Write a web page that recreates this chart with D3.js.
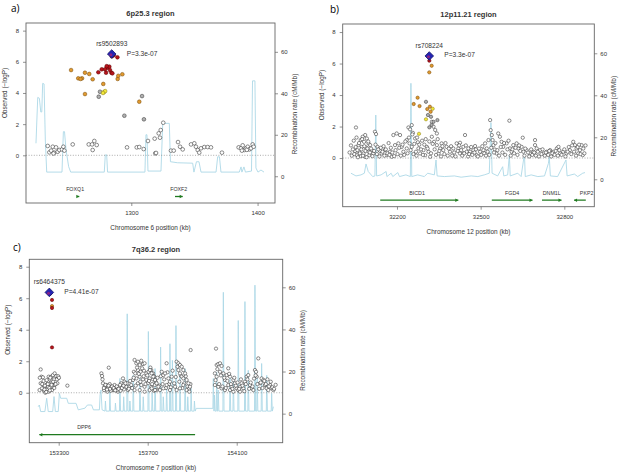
<!DOCTYPE html>
<html><head><meta charset="utf-8">
<script src="https://cdn.jsdelivr.net/npm/d3@7"></script>
<style>
body{margin:0;background:#fff;}
svg{display:block;font-family:"Liberation Sans",Arial,sans-serif;}
</style></head><body>
<svg id="chart" width="622" height="473"></svg>
<script>
// ================= DATA =================
const yTicks = [0, 2, 4, 6, 8];
const rTicks = [0, 20, 40, 60];

// ---- panel a : 6p25.3 ----
const aLetter = "a)";
const aTitle = "6p25.3 region";
const aXTitle = "Chromosome 6 position (kb)";
const aXTicks = [1300, 1400];
const aIndex = {name: "rs9502893", p: "P=3.3e-07", pos: 1284.5, logp: 6.5};
const aRed = [[1273.9,5.33],[1276.6,5.52],[1281,5.62],[1283.1,5.47],[1284.2,5.3],[1280,5.3],[1282.6,5.69],[1289,6.29],[1285,5.26],[1279.2,5.52],[1280.5,5.72],[1284.6,6.35],[1286,6.42]];
const aOrange = [[1252.3,5.47],[1258,4.94],[1261,4.94],[1259.8,4.9],[1263.3,5.3],[1266.7,5.22],[1269.4,4.88],[1263.3,3.93],[1277.8,4.58],[1289.2,4.9],[1292.9,5.2],[1289.7,5.1],[1306.3,3.44]];
const aYellow = [[1278.4,4.06],[1279.3,4.12],[1277.6,4.0]];
const aGray = [[1275.2,4.08],[1274.2,3.76],[1294.5,2.54],[1310,2.31],[1308.5,3.8]];
const aWhite = [[1233.8,0.6],[1237.8,0.55],[1240.4,0.51],[1235.1,0.19],[1239.0,0.17],[1241.7,0.23],[1243.0,0.34],[1245.1,0.38],[1246.2,0.55],[1247.0,0.3],[1236.5,0.3],[1238.4,0.12],[1253.6,0.7],[1266.3,0.7],[1268.9,0.7],[1270.7,0.92],[1272.6,0.66],[1269.4,0.34],[1296.6,0.51],[1304.3,0.51],[1306.3,0.53],[1309.8,0.4],[1313.2,0.92],[1319.0,0.13],[1319.6,0.15],[1318.5,1.07],[1321.7,1.41],[1323.3,1.62],[1322.7,1.13],[1325.3,2.09],[1331.4,0.3],[1333.6,0.3],[1337.0,0.85],[1338.6,0.55],[1340.7,0.38],[1347.3,0.7],[1349.9,0.77],[1351.2,0.55],[1352.6,0.34],[1353.8,0.17],[1355.2,0.45],[1357.8,0.53],[1360.5,0.53],[1363.1,0.51],[1371.8,0.17],[1385.0,0.51],[1386.9,0.45],[1388.2,0.64],[1389.5,0.34],[1390.8,0.45],[1392.2,0.55],[1393.5,0.38],[1394.8,0.45],[1396.1,0.7],[1396.9,0.55],[1387.6,0.3],[1391.5,0.35]];
const aRecomb = [[1224.5,15.9],[1225.9,38],[1227.2,37.6],[1228.3,31],[1229.1,31],[1229.8,44.8],[1230.9,44.5],[1231.9,17.5],[1233.0,2],[1245.1,2],[1246.2,21.5],[1247.1,21.5],[1248.3,12.7],[1250.4,4.6],[1252.0,2],[1278.6,2],[1279.4,10.3],[1280.5,10.3],[1281.2,2],[1310.8,2],[1311.6,20],[1312.4,20],[1313.2,2.5],[1323.5,2.5],[1324.9,25.5],[1330.1,25.5],[1331.0,7],[1336.7,6.5],[1348.6,6.3],[1349.6,2],[1351.6,7],[1353.6,7],[1355.2,2],[1367.1,2],[1368.4,9.4],[1369.8,9.4],[1371.0,2],[1385.5,2],[1386.9,4.5],[1387.6,2],[1389.2,4.5],[1390.4,2],[1395.2,2.5],[1396.0,46],[1397.9,46],[1398.7,4],[1400.3,2],[1402.7,3],[1405.1,2]];
const aGenes = [{name:"FOXQ1", start:1257.3, end:1258.8, strand:1, label:1255.5},{name:"FOXF2", start:1334.6, end:1340.7, strand:1, label:1337.6}];

// ---- panel b : 12p11.21 ----
const bLetter = "b)";
const bTitle = "12p11.21 region";
const bXTitle = "Chromosome 12 position (kb)";
const bXTicks = [32200, 32500, 32800];
const bIndex = {name: "rs708224", p: "P=3.3e-07", pos: 32315.8, logp: 6.48};
const bRed = [[32316,6.18]];
const bOrange = [[32324.4,5.86],[32315.8,5.44],[32274,3.83],[32260,3.43],[32281,3.3],[32308.6,3.11],[32318,3.26],[32320.7,2.94]];
const bYellow = [[32328,3.13],[32304,2.46],[32279,1.54]];
const bGray = [[32304,3.57],[32311,2.73],[32322,2.62],[32331,2.3],[32345,2.41],[32324,2.1],[32316,1.95]];
const bWhite = [[32053,1.94],[32086,1.46],[32077,1.35],[32092,1.24],[32070,1.14],[32082,1.03],[32098,0.93],[32062,0.82],[32074,0.71],[32089,0.67],[32104,0.82],[32050,0.44],[32065,0.4],[32080,0.29],[32098,0.4],[32110,0.5],[32056,0.18],[32070,0.12],[32086,0.08],[32101,0.18],[32115,0.29],[32121,1.67],[32125,1.52],[32130,0.71],[32139,0.46],[32145,0.29],[32157,0.5],[32163,0.18],[32175,0.4],[32181,0.08],[32187,1.46],[32199,1.56],[32211,1.46],[32193,0.82],[32205,0.93],[32217,0.71],[32223,0.4],[32235,0.61],[32241,1.94],[32247,1.82],[32253,2.09],[32257,1.6],[32235,1.14],[32245,0.93],[32253,0.71],[32265,1.24],[32268,0.4],[32277,0.61],[32283,0.29],[32295,0.5],[32301,0.18],[32307,0.71],[32313,0.4],[32319,0.08],[32325,2.3],[32331,1.99],[32337,1.78],[32343,1.56],[32325,1.35],[32333,1.03],[32343,0.82],[32355,0.61],[32349,0.29],[32360,0.93],[32366,0.5],[32378,0.71],[32390,0.4],[32402,0.61],[32414,0.93],[32420,0.61],[32426,0.29],[32438,0.71],[32444,1.46],[32450,0.4],[32456,0.61],[32426,0.97],[32438,0.29],[32462,0.4],[32474,0.5],[32480,0.76],[32486,0.18],[32498,0.4],[32510,0.5],[32522,0.61],[32516,0.93],[32528,1.14],[32534,2.41],[32536,1.77],[32540,1.46],[32543,1.14],[32546,0.82],[32551,0.54],[32557,0.29],[32563,1.56],[32569,1.35],[32575,1.03],[32581,0.71],[32593,0.93],[32603,2.37],[32605,0.61],[32611,0.4],[32617,0.82],[32629,0.93],[32635,0.61],[32647,0.71],[32651,1.29],[32653,0.4],[32665,0.5],[32677,0.29],[32689,0.4],[32695,1.14],[32695,0.82],[32701,0.61],[32713,0.5],[32725,0.29],[32737,0.4],[32749,0.5],[32761,0.4],[32773,0.61],[32779,0.71],[32785,0.29],[32796,0.4],[32808,0.29],[32820,0.5],[32832,1.03],[32838,0.82],[32844,0.61],[32850,0.29],[32856,0.5],[32862,0.82],[32866,0.18],
[32030,0.35],[32035,0.8],[32038,0.15],[32042,0.55],[32045,1.1],[32047,0.25],[32052,0.7],[32055,1.3],[32058,0.5],[32060,0.05],[32064,0.95],[32067,0.3],[32072,0.55],[32075,1.2],[32078,0.15],[32083,0.75],[32087,0.45],[32091,0.05],[32094,0.6],[32097,1.05],[32103,0.35],[32107,0.6],[32112,0.12],[32118,0.45],[32123,0.85],[32128,0.25],[32133,0.55],[32137,0.1],[32142,0.65],[32148,0.4],[32152,0.75],[32155,0.15],[32160,0.55],[32166,0.3],[32170,0.95],[32173,0.2],[32178,0.65],[32183,0.35],[32190,0.12],[32195,0.5],[32202,0.25],[32208,0.65],[32214,0.15],[32220,0.85],[32226,0.2],[32230,1.05],[32238,0.3],[32243,1.3],[32249,0.5],[32255,1.5],[32259,0.25],[32262,0.9],[32270,0.15],[32272,1.3],[32275,1.0],[32280,0.85],[32286,0.55],[32290,1.1],[32293,0.2],[32298,0.85],[32303,1.2],[32310,0.6],[32316,1.05],[32322,0.3],[32328,0.9],[32335,0.55],[32340,0.2],[32346,1.2],[32352,0.45],[32358,0.1],[32363,0.75],[32370,0.25],[32374,0.95],[32382,0.15],[32386,0.6],[32394,0.75],[32398,0.15],[32405,0.35],[32410,0.1],[32418,0.45],[32423,0.8],[32430,0.5],[32434,0.15],[32441,0.3],[32447,0.8],[32455,0.1],[32459,0.25],[32466,0.7],[32470,0.2],[32478,0.35],[32483,0.55],[32490,0.1],[32494,0.6],[32502,0.2],[32506,0.75],[32513,0.3],[32519,0.15],[32525,0.4],[32531,0.2],[32538,0.65],[32548,0.35],[32553,0.95],[32560,0.5],[32566,0.15],[32572,0.7],[32578,0.35],[32584,0.95],[32588,0.2],[32596,0.55],[32600,1.1],[32608,0.15],[32614,0.55],[32620,0.3],[32625,0.65],[32632,0.2],[32638,0.8],[32642,0.45],[32657,0.15],[32660,0.6],[32670,0.35],[32674,0.1],[32681,0.55],[32685,0.2],[32692,0.35],[32698,0.15],[32705,0.4],[32709,0.1],[32718,0.25],[32722,0.55],[32730,0.15],[32734,0.35],[32742,0.2],[32746,0.45],[32753,0.1],[32757,0.3],[32765,0.2],[32769,0.45],[32777,0.15],[32782,0.5],[32790,0.2],[32800,0.55],[32804,0.1],[32812,0.4],[32816,0.7],[32825,0.25],[32828,0.8],[32835,0.4],[32842,0.15],[32848,0.7],[32853,0.85],[32858,0.25],[32868,0.6],[32872,0.3],[32876,0.8]];
const bRecomb = [[32035,2.9],[32053,1.6],[32071,2.1],[32083,2.9],[32089,7.3],[32097,3.7],[32113,1.3],[32121,1.6],[32124,30.6],[32127,1.6],[32143,2.1],[32161,3.7],[32164,1.3],[32179,2.9],[32185,1.3],[32203,3.2],[32209,1.3],[32232,2.1],[32248,1.3],[32250,45.7],[32253,1.3],[32274,2.1],[32298,1.3],[32310,2.9],[32334,2.1],[32340,9.2],[32344,1.6],[32370,1.3],[32406,1.6],[32430,1.0],[32466,1.6],[32490,1.3],[32513,2.1],[32531,2.9],[32537,27],[32541,2.9],[32561,1.6],[32579,6],[32583,1.6],[32597,2.1],[32603,11.6],[32606,1.6],[32633,2.9],[32645,1.3],[32657,12.1],[32660,1.3],[32681,2.1],[32705,1.3],[32729,1.6],[32743,7.6],[32746,10.8],[32750,1.6],[32776,1.3],[32806,9.2],[32810,1.6],[32836,2.5],[32848,1.3],[32866,2.9],[32874,3.2]];
const bGenes = [{name:"BICD1", start:32140, end:32420, strand:1, label:32272},{name:"FGD4", start:32540, end:32686, strand:1, label:32613},{name:"DNM1L", start:32720, end:32790, strand:1, label:32755},{name:"PKP2", start:32877, end:32835, strand:-1, label:32880}];

// ---- panel c : 7q36.2 ----
const cLetter = "c)";
const cTitle = "7q36.2 region";
const cXTitle = "Chromosome 7 position (kb)";
const cXTicks = [153300, 153700, 154100];
const cIndex = {name: "rs6464375", p: "P=4.41e-07", pos: 153258, logp: 6.37};
const cRed = [[153270,5.89],[153270,5.38],[153270,2.88],[153262,6.3]];
const cOrange = [[153270,5.5]];
const cYellow = [];
const cGray = [];
const cWhite = [[153219,1.48],[153222,1.02],[153219,0.6],[153229,0.98],[153214,0.17],[153234,0.38],[153244,0.49],[153252,0.7],[153259,0.85],[153255,1.02],[153267,1.02],[153274,1.12],[153282,1.23],[153289,1.06],[153297,0.91],[153279,0.85],[153270,0.64],[153264,0.38],[153249,0.21],[153234,0.13],[153225,0.28],[153240,0],[153255,0.07],[153270,0.17],[153282,0.49],[153294,0.6],[153252,0.38],[153339,0.45],
[153215,0.95],[153226,0.55],[153232,0.75],[153238,0.45],[153246,0.8],[153251,0.55],[153258,0.3],[153262,0.95],[153268,0.5],[153275,0.7],[153280,0.3],[153286,0.55],[153292,0.85],[153298,1.05],[153301,0.95],[153236,0.2],[153244,0.05],[153260,0.15],
[153492,1.23],[153495,1.06],[153525,1.59],[153499,0.6],[153507,0.38],[153514,0.49],[153522,0.28],[153529,0.55],[153537,0.38],[153544,0.17],[153551,0.49],[153559,0.28],[153566,0.07],[153574,0.38],[153581,0.6],[153589,0.91],[153596,0.7],[153604,0.38],[153611,0.17],[153504,0.17],[153519,0.07],[153534,0.13],[153549,0.21],[153563,0.17],[153578,0.13],[153593,0.21],[153608,0.6],[153619,0.38],[153626,0.49],[153634,0.81],[153641,2.08],[153649,1.87],[153656,1.97],[153664,1.76],[153671,2.03],[153679,1.82],[153686,1.87],[153638,1.33],[153644,1.23],[153656,1.44],[153668,1.33],[153683,1.4],[153694,1.23],[153704,1.33],[153716,1.44],[153724,1.23],[153649,0.91],[153664,1.02],[153679,0.85],[153694,0.81],[153709,0.91],[153724,0.85],[153656,0.6],[153671,0.49],[153686,0.38],[153701,0.6],[153716,0.38],[153731,0.49],[153641,0.17],[153664,0.17],[153686,0.07],[153709,0.17],[153728,0.13],[153739,0.17],
[153497,0.85],[153503,0.3],[153510,0.5],[153517,0.2],[153524,0.45],[153531,0.25],[153540,0.4],[153547,0.3],[153554,0.15],[153561,0.4],[153569,0.25],[153576,0.5],[153584,0.3],[153591,0.45],[153600,0.6],[153615,0.25],[153621,0.75],[153630,0.3],[153637,0.95],[153646,0.45],[153652,1.6],[153660,1.2],[153667,0.7],[153675,1.55],[153682,1.05],[153690,0.55],[153698,1.1],[153706,0.75],[153712,1.6],[153720,0.55],[153729,1.05],[153736,0.7],[153744,0.95],[153752,0.45],[153759,1.05],[153767,0.55],[153774,0.85],[153782,0.3],[153789,1.3],[153796,0.55],[153804,0.35],[153812,1.4],[153819,0.6],[153826,1.0],[153834,1.65],[153842,0.7],[153849,1.1],[153856,0.3],[153864,0.6],[153871,1.05],[153879,0.4],[153886,0.25],[153892,0.55],
[153710,1.44],[153718,1.23],[153725,1.02],[153733,0.81],[153740,0.6],[153748,0.38],[153718,0.28],[153733,0.17],[153763,1.33],[153770,1.12],[153778,1.23],[153785,1.87],[153793,0.91],[153800,0.7],[153808,1.02],[153785,0.49],[153770,0.28],[153755,0.17],[153800,0.17],[153823,0.38],[153830,1.97],[153838,1.87],[153845,1.76],[153853,1.65],[153860,1.44],[153838,1.44],[153845,1.23],[153853,1.02],[153860,0.91],[153868,1.23],[153875,0.81],[153883,0.6],[153890,0.38],[153860,0.49],[153845,0.28],[153830,0.17],[153875,0.17],[153887,0.07],[153893,2.71],
[154007,2.8],[154002,1.23],[154010,1.76],[154017,1.82],[154025,1.87],[154032,1.7],[154010,1.02],[154025,1.33],[154040,1.23],[154055,1.12],[154047,0.81],[154062,1.55],[154070,1.02],[154002,0.49],[154017,0.38],[154032,0.28],[154047,0.17],[154062,0.49],[154077,0.38],[154085,0.81],[154092,0.6],[154100,0.28],[154107,0.17],[154115,0.38],[154122,0.6],[154130,0.28],[154137,0.7],[154145,1.02],[154152,1.12],[154160,0.49],[154167,0.28],[154175,0.17],[154182,1.44],[154187,1.33],[154190,1.02],[154197,2.18],[154205,0.6],[154212,0.91],[154220,0.81],[154227,0.49],[154235,0.28],[154242,0.17],[154250,0.49],[154257,0.28],[154265,0.17],[154070,0.17],[154085,0.07],[154115,0.07],
[154005,0.8],[154013,1.5],[154021,0.55],[154029,1.1],[154036,0.4],[154044,0.95],[154051,0.3],[154058,0.75],[154066,1.2],[154074,0.55],[154081,0.25],[154089,0.95],[154096,0.45],[154104,0.65],[154111,0.25],[154119,0.85],[154126,0.45],[154134,0.1],[154141,0.55],[154148,0.85],[154156,0.25],[154163,0.65],[154171,0.4],[154178,0.9],[154185,1.1],[154193,0.55],[154201,0.25],[154208,0.65],[154216,0.3],[154224,0.75],[154231,0.55],[154238,0.85],[154245,0.4],[154253,0.7],[154260,0.35],[154268,0.25],[154275,0.5]];
const cRecomb = [[153208,3.3],[153213,4.1],[153219,1.0],[153238,1.0],[153246,7.3],[153253,1.0],[153273,1.0],[153279,8.1],[153285,1.0],[153298,1.0],[153303,9.6],[153309,7.3],[153336,7.3],[153343,4.9],[153378,4.9],[153388,1.8],[153418,2.6],[153429,4.1],[153448,4.1],[153456,1.8],[153483,1.8],[153486,8.8],[153490,11.2],[153495,1.8],[153508,1.2],[153510,6],[153513,1.2],[153528,1.2],[153530,11.2],[153533,1.2],[153553,1.2],[153555,5],[153558,1.2],[153573,1.2],[153575,16.7],[153578,1.2],[153590,1.2],[153592,8],[153595,1.2],[153606,1.2],[153608,47.4],[153611,1.2],[153618,1.2],[153620,6],[153623,1.2],[153633,1.2],[153635,18.3],[153638,1.2],[153663,1.2],[153665,19.8],[153668,1.2],[153678,1.2],[153680,8],[153683,1.2],[153701,1.2],[153703,39],[153706,1.2],[153718,1.2],[153720,10],[153723,1.2],[153731,1.2],[153733,21.4],[153736,1.2],[153756,1.2],[153758,31.6],[153761,1.2],[153768,1.2],[153770,8],[153773,1.2],[153783,1.2],[153785,14],[153788,1.2],[153798,1.2],[153800,33.2],[153803,1.2],[153809,1.2],[153811,25.3],[153814,1.2],[153825,1.2],[153827,41.8],[153830,1.2],[153843,1.2],[153845,18.3],[153848,1.2],[153866,1.2],[153868,21.4],[153871,1.2],[153878,1.2],[153880,8],[153883,1.2],[153893,1.2],[153895,12],[153898,1.2],[153908,1.2],[153910,6],[153913,1.2],[153918,2.5],[153993,2.5],[153995,16.7],[153998,1.2],[154000,8.8],[154003,1.2],[154008,1.2],[154010,19.8],[154013,1.2],[154015,1.2],[154017,11.2],[154020,1.2],[154038,1.2],[154040,57.6],[154043,1.2],[154068,1.2],[154070,19],[154073,1.2],[154083,1.2],[154085,16.7],[154088,1.2],[154105,1.2],[154107,44.2],[154110,1.2],[154135,1.2],[154137,53.2],[154140,1.2],[154150,1.2],[154152,20.6],[154155,1.2],[154180,1.2],[154182,61],[154185,1.2],[154190,1.2],[154192,18],[154195,1.2],[154210,1.2],[154212,23.8],[154215,1.2],[154233,1.2],[154235,18.2],[154238,1.2],[154255,1.2],[154257,9.6],[154260,1.2],[154265,3.3]];
const cGenes = [{name:"DPP6", start:153913, end:153213, strand:-1, label:153414}];

// ================= LAYOUT (positions only) =================
const layout = [
  {box:[26,23,275,203], xDom:[1216.6,1413.8], yDom:[-3.06,8.49], rDom:[-12.9,73.9], letter:[11,12]},
  {box:[342.7,24,594.3,206.7], xDom:[32005.4,32907.5], yDom:[-3.09,8.51], rDom:[-13.05,73.95], letter:[330,13]},
  {box:[29.3,259.3,282.7,442.7], xDom:[153167.9,154306.7], yDom:[-3.17,8.47], rDom:[-13.8,73.3], letter:[13,251]}
];
const panels = [
  {letter:aLetter,title:aTitle,xTitle:aXTitle,xTicks:aXTicks,index:aIndex,red:aRed,orange:aOrange,yellow:aYellow,gray:aGray,white:aWhite,recomb:aRecomb,genes:aGenes,pr:1.85},
  {letter:bLetter,title:bTitle,xTitle:bXTitle,xTicks:bXTicks,index:bIndex,red:bRed,orange:bOrange,yellow:bYellow,gray:bGray,white:bWhite,recomb:bRecomb,genes:bGenes,pr:1.65},
  {letter:cLetter,title:cTitle,xTitle:cXTitle,xTicks:cXTicks,index:cIndex,red:cRed,orange:cOrange,yellow:cYellow,gray:cGray,white:cWhite,recomb:cRecomb,genes:cGenes,pr:1.65}
];

const COL = {
  white:["#ffffff","#2e2e2e"], gray:["#b0b0b0","#3a3a3a"], yellow:["#f3e83a","#8f8520"],
  orange:["#e29a2e","#7a4e10"], red:["#b8141c","#600808"], index:["#2424b4","#141466"],
  recomb:"#add8e6", gene:"#1f7a1f", text:"#333", box:"#666"
};

const svg = d3.select("#chart");

panels.forEach((P, i) => {
  const L = layout[i];
  const [x0, y0, x1, y1] = L.box;
  const x = d3.scaleLinear().domain(L.xDom).range([x0, x1]);
  const y = d3.scaleLinear().domain(L.yDom).range([y1, y0]);
  const r = d3.scaleLinear().domain(L.rDom).range([y1, y0]);

  svg.append("clipPath").attr("id", "clip" + i).append("rect")
    .attr("x", x0).attr("y", y0).attr("width", x1 - x0).attr("height", y1 - y0);
  const g = svg.append("g").attr("clip-path", `url(#clip${i})`);

  // recombination rate line
  g.append("path").datum(P.recomb)
    .attr("fill", "none").attr("stroke", COL.recomb).attr("stroke-width", 0.9)
    .attr("d", d3.line().x(d => x(d[0])).y(d => r(d[1])));

  // dotted zero line
  g.append("line").attr("x1", x0 + 0).attr("x2", x1).attr("y1", y(0)).attr("y2", y(0))
    .attr("stroke", "#888").attr("stroke-width", 0.7).attr("stroke-dasharray", "1,1.6");

  // genes
  const gy = y1 - (i === 2 ? 8 : 6.5);
  const gg = g.append("g");
  P.genes.forEach(ge => {
    const xs = x(ge.start), xe = x(ge.end);
    gg.append("line").attr("x1", xs).attr("x2", xe).attr("y1", gy).attr("y2", gy)
      .attr("stroke", COL.gene).attr("stroke-width", 1.3);
    const dir = xe >= xs ? 1 : -1;
    gg.append("path")
      .attr("d", `M${xe},${gy} L${xe - dir*3},${gy - 1.8} L${xe - dir*3},${gy + 1.8} Z`)
      .attr("fill", COL.gene);
    gg.append("text").attr("x", x(ge.label)).attr("y", gy - 5.5)
      .attr("text-anchor", "middle").attr("font-size", 5.3).attr("fill", COL.text).text(ge.name);
  });

  // SNP points
  const drawPts = (arr, key, rad) => {
    g.append("g").selectAll("circle").data(arr).join("circle")
      .attr("cx", d => x(d[0])).attr("cy", d => y(d[1])).attr("r", rad)
      .attr("fill", COL[key][0]).attr("stroke", COL[key][1]).attr("stroke-width", 0.55);
  };
  drawPts(P.white, "white", P.pr);
  drawPts(P.gray, "gray", P.pr);
  drawPts(P.yellow, "yellow", P.pr);
  drawPts(P.orange, "orange", P.pr);
  drawPts(P.red, "red", P.pr);

  // index SNP diamond
  const ix = x(P.index.pos), iy = y(P.index.logp), hs = 4.3;
  g.append("path").attr("d", `M${ix},${iy - hs} L${ix + hs},${iy} L${ix},${iy + hs} L${ix - hs},${iy} Z`)
    .attr("fill", COL.index[0]).attr("stroke", COL.index[1]).attr("stroke-width", 0.8);
  g.append("circle").attr("cx", ix - 0.8).attr("cy", iy + 0.8).attr("r", 1.5).attr("fill", "#a0207a").attr("opacity", 0.8);
  g.append("text").attr("x", ix).attr("y", iy - 8).attr("text-anchor", "middle")
    .attr("font-size", 6.6).attr("fill", COL.text).text(P.index.name);
  g.append("text").attr("x", ix + 15).attr("y", iy + 1.5).attr("text-anchor", "start")
    .attr("font-size", 6.6).attr("fill", COL.text).text(P.index.p);

  // box
  svg.append("rect").attr("x", x0).attr("y", y0).attr("width", x1 - x0).attr("height", y1 - y0)
    .attr("fill", "none").attr("stroke", COL.box).attr("stroke-width", 0.9);

  // axes
  const styleAxis = sel => {
    sel.select(".domain").remove();
    sel.selectAll(".tick line").attr("stroke", COL.box).attr("stroke-width", 0.7);
    sel.selectAll(".tick text").attr("fill", COL.text).attr("font-size", 6).attr("font-family", "Liberation Sans, Arial, sans-serif");
  };
  svg.append("g").attr("transform", `translate(${x0},0)`)
    .call(d3.axisLeft(y).tickValues(yTicks).tickSize(3).tickPadding(4)).call(styleAxis);
  svg.append("g").attr("transform", `translate(${x1},0)`)
    .call(d3.axisRight(r).tickValues(rTicks).tickSize(3).tickPadding(3)).call(styleAxis);
  svg.append("g").attr("transform", `translate(0,${y1})`)
    .call(d3.axisBottom(x).tickValues(P.xTicks).tickFormat(d3.format("d")).tickSize(3).tickPadding(5)).call(styleAxis);

  // titles
  svg.append("text").attr("x", (x0 + x1) / 2).attr("y", y0 - 7).attr("text-anchor", "middle")
    .attr("font-size", 7.5).attr("font-weight", "bold").attr("fill", COL.text).text(P.title);
  svg.append("text").attr("x", L.letter[0]).attr("y", L.letter[1])
    .attr("font-size", 10).attr("fill", "#000").attr("font-family", "Open Sans, Liberation Sans, sans-serif").text(P.letter);
  svg.append("text").attr("x", (x0 + x1) / 2).attr("y", y1 + 27).attr("text-anchor", "middle")
    .attr("font-size", 6.4).attr("fill", COL.text).text(P.xTitle);
  const yc = y(4);
  svg.append("text").attr("transform", `translate(${x0 - 19},${yc}) rotate(-90)`)
    .attr("text-anchor", "middle").attr("font-size", 6.4).attr("fill", COL.text).text("Observed (\u2212logP)");
  svg.append("text").attr("transform", `translate(${x1 + 22},${r(30)}) rotate(-90)`)
    .attr("text-anchor", "middle").attr("font-size", 6.4).attr("fill", COL.text).text("Recombination rate (cM/Mb)");
});
</script>
</body></html>
